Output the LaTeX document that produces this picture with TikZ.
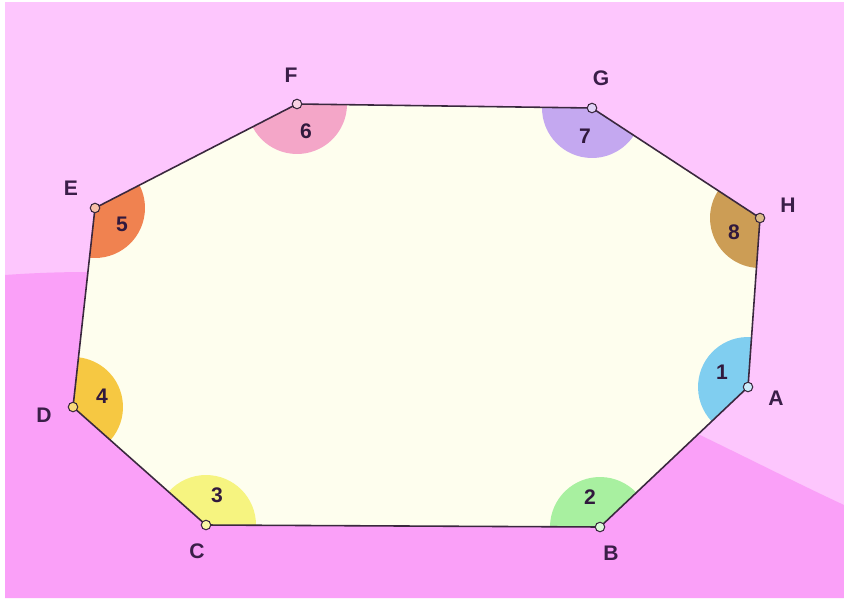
\documentclass[tikz,border=0pt]{standalone}
\usepackage{fontspec}
\setmainfont{Liberation Sans}
\usetikzlibrary{angles}
\definecolor{bgTop}{RGB}{253,198,253}
\definecolor{bgLow}{RGB}{250,160,248}
\definecolor{inner}{RGB}{254,254,238}
\definecolor{edge}{RGB}{58,40,62}
\definecolor{ink}{RGB}{58,30,72}
\definecolor{secA}{RGB}{128,206,240}
\definecolor{secB}{RGB}{168,240,160}
\definecolor{secC}{RGB}{246,244,128}
\definecolor{secD}{RGB}{246,200,66}
\definecolor{secE}{RGB}{240,130,80}
\definecolor{secF}{RGB}{244,166,200}
\definecolor{secG}{RGB}{196,168,240}
\definecolor{secH}{RGB}{204,157,85}
\tikzset{
    every node/.append style={align=center},
    vlbl/.style={font=\fontsize{12}{14}\selectfont\bfseries,text=ink,inner sep=0pt},
    num/.style={font=\fontsize{12}{14}\selectfont\bfseries,text=ink!85!black,inner sep=0pt},
    sector/.style={draw=none,fill=#1,angle radius=1cm},
    dot/.style={circle,draw=edge,line width=0.6pt,fill=#1,minimum size=0.19cm,inner sep=0pt}
}
\begin{document}
\begin{tikzpicture}[x=0.02cm,y=-0.02cm]
    \useasboundingbox (0,0) rectangle (844,601);
    % backdrop
    \fill[white] (0,0) rectangle (844,601);
    \fill[bgTop] (5,2) rectangle (844,598);
    \fill[bgLow] (5,275) .. controls (380,248) and (640,410) .. (844,505) -- (844,598) -- (5,598) -- cycle;

    % corners of the octagon
    \coordinate (A) at (748,387);
    \coordinate (B) at (600,527);
    \coordinate (C) at (206,525);
    \coordinate (D) at (73,407);
    \coordinate (E) at (95,208);
    \coordinate (F) at (297,104);
    \coordinate (G) at (592,108);
    \coordinate (H) at (760,218);

    \fill[inner] (A) -- (B) -- (C) -- (D) -- (E) -- (F) -- (G) -- (H) -- cycle;

    % interior angles
    \pic[sector=secA] {angle=H--A--B};
    \pic[sector=secB] {angle=A--B--C};
    \pic[sector=secC] {angle=B--C--D};
    \pic[sector=secD] {angle=C--D--E};
    \pic[sector=secE] {angle=D--E--F};
    \pic[sector=secF] {angle=E--F--G};
    \pic[sector=secG] {angle=F--G--H};
    \pic[sector=secH] {angle=G--H--A};

    \draw[edge,line width=0.9pt,line join=round] (A) -- (B) -- (C) -- (D) -- (E) -- (F) -- (G) -- (H) -- cycle;

    \node[dot=secA!40!white] (dA) at (A) {};
    \node[dot=secB!40!white] (dB) at (B) {};
    \node[dot=secC!70!white] (dC) at (C) {};
    \node[dot=secD!70!white] (dD) at (D) {};
    \node[dot=secE!50!white] (dE) at (E) {};
    \node[dot=secF!50!white] (dF) at (F) {};
    \node[dot=secG!50!white] (dG) at (G) {};
    \node[dot=secH!70!white] (dH) at (H) {};

    % vertex names
    \node[vlbl] (lA) at (776,398) {A};
    \node[vlbl] (lB) at (611,553) {B};
    \node[vlbl] (lC) at (197,551) {C};
    \node[vlbl] (lD) at (44,415)  {D};
    \node[vlbl] (lE) at (71,188)  {E};
    \node[vlbl] (lF) at (291,75)  {F};
    \node[vlbl] (lG) at (601,78)  {G};
    \node[vlbl] (lH) at (788,205) {H};

    % angle numbers
    \node[num] (n1) at (722,372) {1};
    \node[num] (n2) at (590,497) {2};
    \node[num] (n3) at (217,495) {3};
    \node[num] (n4) at (102,396) {4};
    \node[num] (n5) at (122,224) {5};
    \node[num] (n6) at (306,131) {6};
    \node[num] (n7) at (585,136) {7};
    \node[num] (n8) at (734,232) {8};
\end{tikzpicture}
\end{document}
